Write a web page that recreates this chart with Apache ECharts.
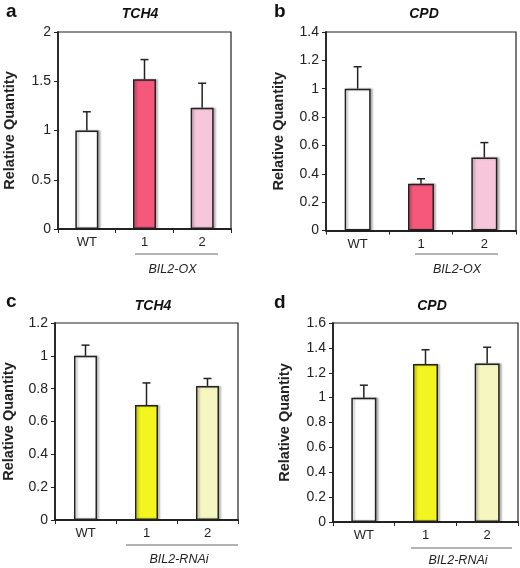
<!DOCTYPE html>
<html>
<head>
<meta charset="utf-8">
<script src="https://cdn.jsdelivr.net/npm/echarts@6/dist/echarts.min.js"></script>
<style>
html,body{margin:0;padding:0;background:#fff;}
#chart{width:520px;height:568px;}
</style>
</head>
<body>
<div id="chart"></div>
<script>
// ---- data ----
const categories = ['WT', '1', '2'];
const aValues = [1.0, 1.52, 1.23];
const aErrors = [0.19, 0.20, 0.25];
const bValues = [1.0, 0.33, 0.515];
const bErrors = [0.155, 0.035, 0.105];
const cValues = [1.0, 0.70, 0.817];
const cErrors = [0.065, 0.135, 0.045];
const dValues = [1.0, 1.27, 1.275];
const dErrors = [0.10, 0.115, 0.13];
const yMax = [2, 1.4, 1.2, 1.6];
const yInterval = [0.5, 0.2, 0.2, 0.2];
const panelLetters = ['a', 'b', 'c', 'd'];
const panelTitles = ['TCH4', 'CPD', 'TCH4', 'CPD'];
const groupLabels = ['BIL2-OX', 'BIL2-OX', 'BIL2-RNAi', 'BIL2-RNAi'];

const OX_COLORS = ['#ffffff', '#f5587a', '#f8c6db'];
const RNAI_COLORS = ['#ffffff', '#f2f51e', '#f6f6c0'];

const FONT = "'Liberation Sans', Arial, sans-serif";
const INK = '#222';

const panels = [
  {vals: aValues, errs: aErrors, colors: OX_COLORS, grid: {left: 58, top: 32, width: 173, height: 197}, barWidth: 23, nameGap: 41},
  {vals: bValues, errs: bErrors, colors: OX_COLORS, grid: {left: 326, top: 32, width: 190, height: 198.5}, barWidth: 26, nameGap: 40},
  {vals: cValues, errs: cErrors, colors: RNAI_COLORS, grid: {left: 55, top: 323, width: 183, height: 197}, barWidth: 23, nameGap: 39},
  {vals: dValues, errs: dErrors, colors: RNAI_COLORS, grid: {left: 333, top: 323, width: 185, height: 199}, barWidth: 25, nameGap: 41}
];

function errRender(params, api) {
  const x = api.value(0), v = api.value(1), e = api.value(2);
  const p0 = api.coord([x, v]);
  const p1 = api.coord([x, v + e]);
  const st = {stroke: INK, lineWidth: 1.5};
  return {type: 'group', children: [
    {type: 'line', shape: {x1: p0[0], y1: p0[1], x2: p1[0], y2: p1[1]}, style: st},
    {type: 'line', shape: {x1: p1[0] - 4, y1: p1[1], x2: p1[0] + 4, y2: p1[1]}, style: st}
  ]};
}

const grids = [], xAxes = [], yAxes = [], series = [];
panels.forEach((p, i) => {
  grids.push(Object.assign({show: true, borderColor: INK, borderWidth: 1.2, backgroundColor: '#fff'}, p.grid));
  xAxes.push({
    type: 'category', gridIndex: i, data: categories, boundaryGap: true,
    axisLine: {lineStyle: {color: INK, width: 1.8}},
    axisTick: {show: true, length: 4, inside: false, alignWithLabel: false, lineStyle: {color: INK, width: 1}},
    axisLabel: {color: INK, fontSize: 13, fontFamily: FONT, margin: 7}
  });
  yAxes.push({
    type: 'value', gridIndex: i, min: 0, max: yMax[i], interval: yInterval[i],
    name: 'Relative Quantity', nameLocation: 'middle', nameGap: p.nameGap, nameRotate: 90,
    nameTextStyle: {color: INK, fontSize: 14.5, fontWeight: 'bold', fontFamily: FONT},
    axisLine: {show: true, lineStyle: {color: INK, width: 1.8}},
    axisTick: {show: true, length: 4, inside: false, lineStyle: {color: INK, width: 1}},
    axisLabel: {color: INK, fontSize: 14, fontFamily: FONT, margin: 7},
    splitLine: {show: false}
  });
  series.push({
    type: 'bar', xAxisIndex: i, yAxisIndex: i, barWidth: p.barWidth,
    data: p.vals.map((v, k) => ({value: v, itemStyle: {color: p.colors[k]}})),
    itemStyle: {borderColor: INK, borderWidth: 1.5, shadowColor: 'rgba(0,0,0,0.25)', shadowBlur: 2, shadowOffsetX: 2, shadowOffsetY: 0},
    z: 2, animation: false
  });
  series.push({
    type: 'custom', xAxisIndex: i, yAxisIndex: i, renderItem: errRender,
    data: p.vals.map((v, k) => [k, v, p.errs[k]]),
    encode: {x: 0, y: 1}, z: 3, animation: false
  });
});

const titles = [
  {text: panelLetters[0], left: 6, top: 2},
  {text: panelLetters[1], left: 274, top: 2},
  {text: panelLetters[2], left: 6, top: 292},
  {text: panelLetters[3], left: 274, top: 293}
].map(t => Object.assign(t, {textStyle: {fontSize: 19, fontWeight: 'bold', color: '#111', fontFamily: FONT}, padding: 0}));

const titleCenters = [[140, 7], [424, 7], [153, 299], [432, 299]];
titleCenters.forEach((c, i) => {
  titles.push({text: panelTitles[i], left: c[0], top: c[1], textAlign: 'center', padding: 0,
    textStyle: {fontSize: 14, fontWeight: 'bold', fontStyle: 'italic', color: '#111', fontFamily: FONT}});
});

const underlines = [[135, 218, 254], [415, 498, 254], [126, 238, 545], [411, 512, 548]];
const groupTextPos = [[172.5, 269.5], [457, 269.5], [179, 560], [458, 561]];
const graphics = [];
underlines.forEach((u, i) => {
  graphics.push({type: 'line', shape: {x1: u[0], y1: u[2], x2: u[1], y2: u[2]}, style: {stroke: '#666', lineWidth: 1}});
  graphics.push({type: 'text', x: groupTextPos[i][0], y: groupTextPos[i][1],
    style: {text: groupLabels[i], fill: INK, font: 'italic 12.5px ' + FONT, textAlign: 'center', textVerticalAlign: 'middle'}});
});

const chart = echarts.init(document.getElementById('chart'), null, {renderer: 'canvas'});
chart.setOption({
  backgroundColor: '#fff',
  animation: false,
  title: titles,
  grid: grids,
  xAxis: xAxes,
  yAxis: yAxes,
  series: series,
  graphic: graphics
});
</script>
</body>
</html>
